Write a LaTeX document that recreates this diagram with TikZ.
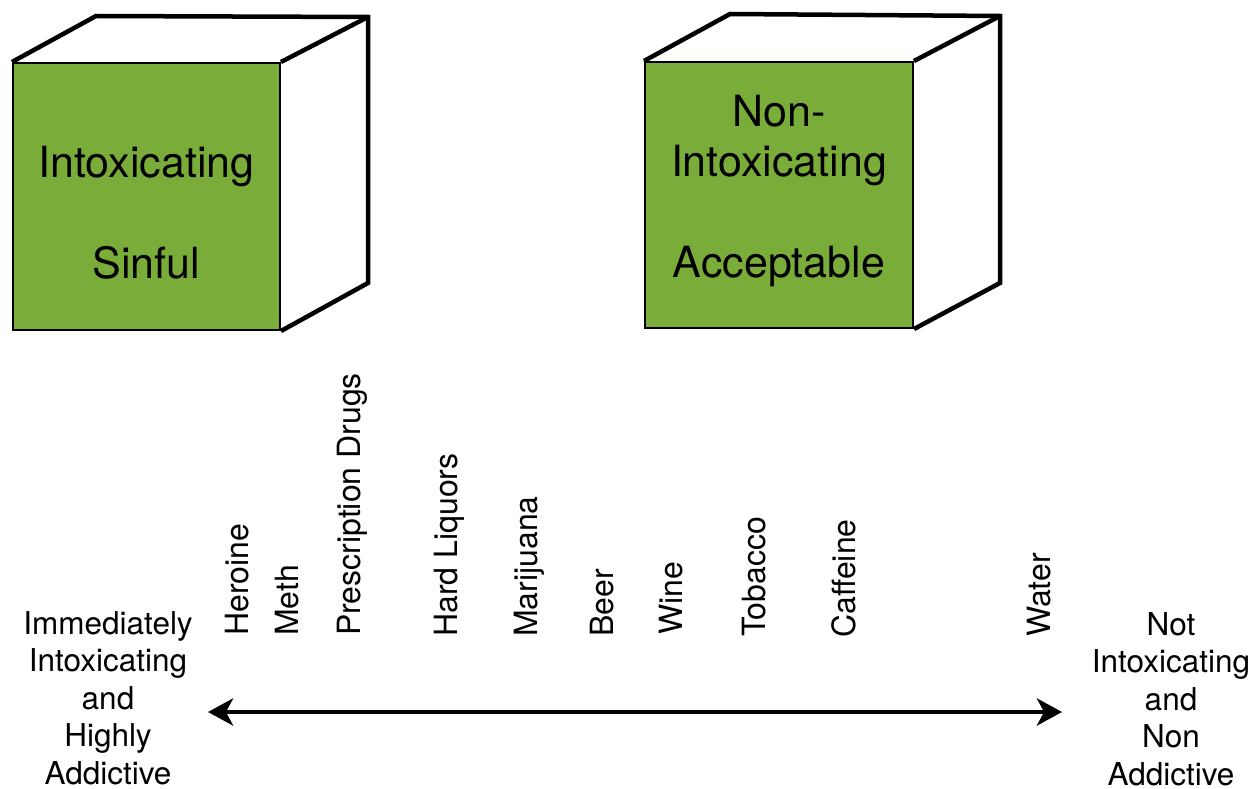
\documentclass[tikz,border=0pt]{standalone}
\usepackage{fontspec}
\setmainfont{TeX Gyre Heros}
\usetikzlibrary{arrows.meta}
\definecolor{boxgreen}{RGB}{122,172,58}

\begin{document}
\begin{tikzpicture}[x=1pt, y=-1pt,
    face/.style={draw, line width=2pt, fill=boxgreen, minimum width=267pt, minimum height=267pt, inner sep=0pt},
    edge/.style={line width=4.5pt, line join=miter},
    boxtext/.style={align=center, inner sep=0pt, font=\fontsize{43}{50.5}\selectfont},
    drug/.style={rotate=90, anchor=base west, inner sep=0pt, font=\fontsize{32}{36}\selectfont},
    endtext/.style={align=center, inner sep=0pt, font=\fontsize{31.5}{37.5}\selectfont},
    scalearrow/.style={line width=4.5pt, {Stealth[length=25pt,width=27pt,inset=7pt]}-{Stealth[length=25pt,width=27pt,inset=7pt]}}]
    \useasboundingbox (0,0) rectangle (1256,789);

    \node[face] (sinful) at (146.5,196.5) {};
    \coordinate (sinfulback) at (368,17);
    \draw[edge] (sinful.north west) -- ++(84,-46) -- (sinfulback) -- (368,283) -- (sinful.south east);
    \draw[edge] (sinful.north east) -- (sinfulback);
    \node[boxtext] (sinfultext) at (146.5,212.5) {Intoxicating\\~\\Sinful};

    \node[face, minimum width=268pt, minimum height=266pt] (accept) at (779,195) {};
    \coordinate (acceptback) at (1000,16);
    \draw[edge] (accept.north west) -- ++(86,-47) -- (acceptback) -- (1000,283) -- (accept.south east);
    \draw[edge] (accept.north east) -- (acceptback);
    \node[boxtext] (accepttext) at (779,191) {Non-\\Intoxicating\\~\\Acceptable};

    \node[drug] (heroine) at (248,636) {Heroine};
    \node[drug] (meth) at (298,636) {Meth};
    \node[drug] (prescription) at (360,636) {Prescription Drugs};
    \node[drug] (liquor) at (457,637) {Hard Liquors};
    \node[drug] (marijuana) at (537,637) {Marijuana};
    \node[drug] (beer) at (613,637) {Beer};
    \node[drug] (wine) at (682,635) {Wine};
    \node[drug] (tobacco) at (765,637) {Tobacco};
    \node[drug] (caffeine) at (855,638) {Caffeine};
    \node[drug] (water) at (1050,637) {Water};

    \node[endtext] (addictive) at (108,698) {Immediately\\Intoxicating\\and\\Highly\\Addictive};
    \node[endtext] (nonaddictive) at (1171,699) {Not\\Intoxicating\\and\\Non\\Addictive};

    \coordinate (scaleleft) at (208,712);
    \coordinate (scaleright) at (1062,712);
    \draw[scalearrow] (scaleleft) -- (scaleright);

\end{tikzpicture}
\end{document}
